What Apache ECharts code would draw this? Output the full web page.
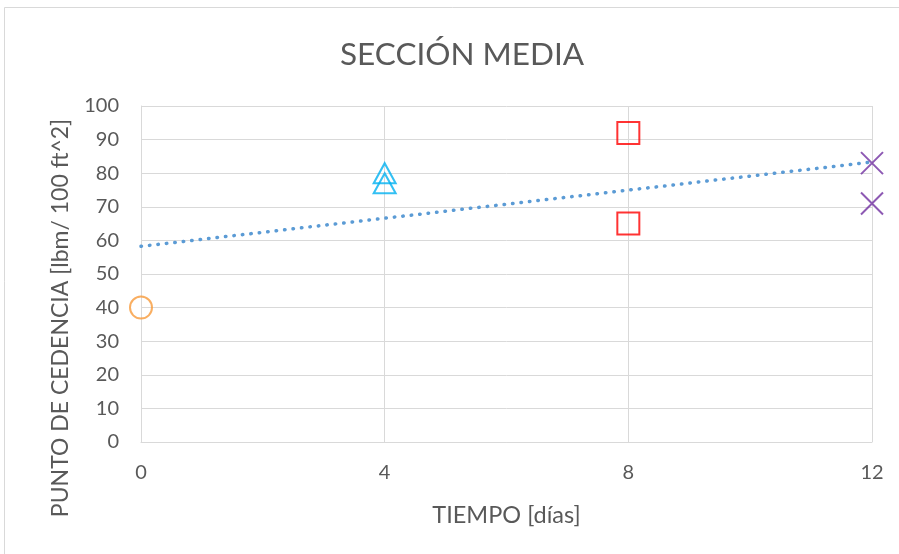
<!DOCTYPE html>
<html>
<head>
<meta charset="utf-8">
<script src="https://cdn.jsdelivr.net/npm/echarts@6/dist/echarts.min.js"></script>
<style>
  html, body { margin: 0; padding: 0; background: #fff; }
  #chart { width: 899px; height: 554px; }
</style>
</head>
<body>
<div id="chart"></div>
<script>
// Yield point measurements (lbm/100 ft^2) by curing time in days
const xTicks = [0, 4, 8, 12];
const day0 = [[0, 40]];
const day4 = [[4, 80], [4, 77]];
const day8 = [[8, 92], [8, 65]];
const day12 = [[12, 83], [12, 71]];

// Least-squares linear trend over all measurements
const allPts = [].concat(day0, day4, day8, day12);
const n = allPts.length;
const mx = allPts.reduce((s, p) => s + p[0], 0) / n;
const my = allPts.reduce((s, p) => s + p[1], 0) / n;
let sxy = 0, sxx = 0;
allPts.forEach(p => { sxy += (p[0] - mx) * (p[1] - my); sxx += (p[0] - mx) * (p[0] - mx); });
const slope = sxy / sxx;
const intercept = my - slope * mx;
const trend = [[0, intercept], [12, intercept + slope * 12]];

const font = 'Lato, "Open Sans", sans-serif';
const txt = '#595959';
const grid = '#d9d9d9';

const chart = echarts.init(document.getElementById('chart'), null, { renderer: 'canvas' });

function pointSeries(data, symbol, color) {
  return {
    type: 'scatter',
    data: data,
    symbol: symbol,
    symbolSize: symbol === 'triangle' ? [22, 20] : 22,
    itemStyle: { color: 'rgba(0,0,0,0)', borderColor: color, borderWidth: 2 },
    z: 3
  };
}

chart.setOption({
  animation: false,
  backgroundColor: '#fff',
  title: {
    text: 'SECCIÓN MEDIA',
    left: 335,
    top: 34,
    textStyle: { fontFamily: font, fontSize: 31.5, fontWeight: 'normal', color: txt }
  },
  graphic: [{
    type: 'rect',
    shape: { x: 4.5, y: 7.5, width: 900, height: 560 },
    style: { fill: 'none', stroke: '#d9d9d9', lineWidth: 1 },
    silent: true
  }],
  grid: { left: 141, right: 27, top: 106, bottom: 112 },
  xAxis: {
    type: 'value',
    min: 0, max: 12, interval: 4,
    name: 'TIEMPO [días]',
    nameLocation: 'middle',
    nameGap: 61,
    nameTextStyle: { fontFamily: font, fontSize: 23.5, color: txt },
    axisLine: { show: true, lineStyle: { color: grid, width: 1 } },
    axisTick: { show: false },
    splitLine: { show: true, lineStyle: { color: grid, width: 1 } },
    axisLabel: { fontFamily: font, fontSize: 20, color: txt, margin: 21 }
  },
  yAxis: {
    type: 'value',
    min: 0, max: 100, interval: 10,
    name: 'PUNTO DE CEDENCIA [lbm/ 100 ft^2]',
    nameLocation: 'middle',
    nameGap: 69,
    nameTextStyle: { fontFamily: font, fontSize: 23, color: txt, padding: [0, 88, 0, 0] },
    axisLine: { show: true, lineStyle: { color: grid, width: 1 } },
    axisTick: { show: false },
    splitLine: { show: true, lineStyle: { color: grid, width: 1 } },
    axisLabel: { fontFamily: font, fontSize: 20, color: txt, margin: 22 }
  },
  series: [
    {
      type: 'line',
      data: trend,
      symbol: 'none',
      lineStyle: { color: '#5b9bd5', width: 3.5, type: [0.5, 8], cap: 'round' },
      z: 2
    },
    pointSeries(day0, 'circle', '#f79a3a'),
    pointSeries(day4, 'triangle', '#00b0f0'),
    pointSeries(day8, 'rect', '#ff0000'),
    pointSeries(day12, 'path://M0,0L10,10M10,0L0,10', '#7030a0')
  ]
});
</script>
</body>
</html>
